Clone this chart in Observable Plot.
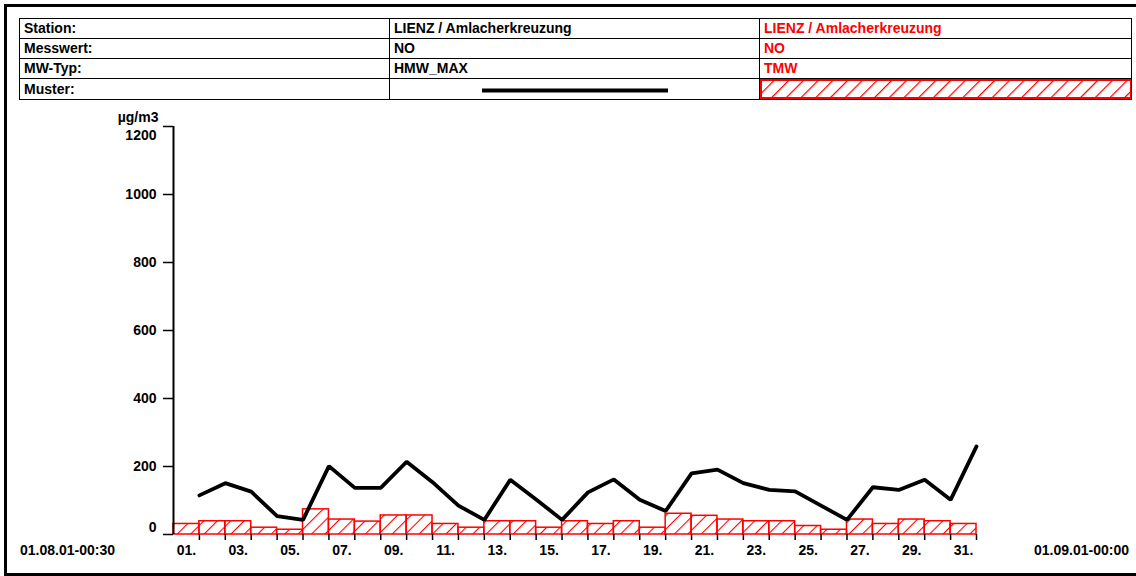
<!DOCTYPE html>
<html>
<head>
<meta charset="utf-8">
<script src="https://cdn.jsdelivr.net/npm/d3@7"></script>
<script src="https://cdn.jsdelivr.net/npm/@observablehq/plot@0.6"></script>
<style>
  body { margin: 0; background: #fff; }
  #wrap { position: relative; width: 1136px; height: 576px; overflow: hidden; background: #fff;
          font-family: "Liberation Sans", Arial, sans-serif; font-weight: bold; }
  #frame { position: absolute; left: 4px; top: 4px; width: 1140px; height: 572px;
           border: 3px solid #000; box-sizing: border-box; }
  #hdr { position: absolute; left: 19px; top: 18px; border-collapse: collapse; table-layout: fixed;
         width: 1112px; font-size: 14px; }
  #hdr td { border: 1.5px solid #000; height: 19px; padding: 0 0 0 4px; line-height: 19px;
            white-space: nowrap; overflow: hidden; }
  #hdr td.red { color: #ff0000; }
  #hdr td.leg { padding: 0; position: relative; }
  #chart { position: absolute; left: 0; top: 106px; }
  .endlab { position: absolute; top: 541px; font-size: 14px; line-height: 18px; }
</style>
</head>
<body>
<div id="wrap">
  <div id="frame"></div>
  <table id="hdr">
    <colgroup><col style="width:370px"><col style="width:370px"><col style="width:372px"></colgroup>
    <tr><td id="r0c0"></td><td id="r0c1"></td><td id="r0c2" class="red"></td></tr>
    <tr><td id="r1c0"></td><td id="r1c1"></td><td id="r1c2" class="red"></td></tr>
    <tr><td id="r2c0"></td><td id="r2c1"></td><td id="r2c2" class="red"></td></tr>
    <tr><td id="r3c0"></td><td class="leg" id="legLine"></td><td class="leg" id="legHatch"></td></tr>
  </table>
  <div id="chart"></div>
  <div class="endlab" id="startLab" style="left:20px;"></div>
  <div class="endlab" id="endLab" style="right:7px;"></div>
</div>
<script>
// ---- data ----
const rowLabels = ["Station:", "Messwert:", "MW-Typ:", "Muster:"];
const series1Info = ["LIENZ / Amlacherkreuzung", "NO", "HMW_MAX"];
const series2Info = ["LIENZ / Amlacherkreuzung", "NO", "TMW"];
const days = d3.range(1, 32);
const hmwMax = [115, 151, 126, 54, 43, 201, 137, 137, 214, 154,
                85, 43, 161, 103, 43, 124, 162, 102, 69, 180,
                191, 151, 131, 127, 85, 43, 139, 131, 161, 102, 259];
const tmw = [31, 39, 39, 20, 14, 74, 44, 38, 56, 56,
             31, 20, 39, 39, 20, 39, 31, 39, 20, 61,
             55, 44, 39, 39, 25, 14, 44, 31, 44, 39, 31];
const yTicks = [0, 200, 400, 600, 800, 1000, 1200];
const labelDays = [1, 3, 5, 7, 9, 11, 13, 15, 17, 19, 21, 23, 25, 27, 29, 31];
const dayLabels = ["01.", "03.", "05.", "07.", "09.", "11.", "13.", "15.", "17.", "19.", "21.", "23.", "25.", "27.", "29.", "31."];
const unitLabel = "µg/m3";
const startLabel = "01.08.01-00:30";
const endLabel = "01.09.01-00:00";

// ---- header ----
rowLabels.forEach((t, i) => document.getElementById("r" + i + "c0").textContent = t);
series1Info.forEach((t, i) => document.getElementById("r" + i + "c1").textContent = t);
series2Info.forEach((t, i) => document.getElementById("r" + i + "c2").textContent = t);
document.getElementById("startLab").textContent = startLabel;
document.getElementById("endLab").textContent = endLabel;

const legLine = d3.select("#legLine").append("svg").attr("width", 370).attr("height", 20)
  .style("display", "block");
legLine.append("line").attr("x1", 92).attr("x2", 278).attr("y1", 11.5).attr("y2", 11.5)
  .attr("stroke", "#000").attr("stroke-width", 4);

const legH = d3.select("#legHatch").append("svg").attr("width", 372).attr("height", 20)
  .style("display", "block");
const lp = legH.append("defs").append("pattern").attr("id", "hatchLeg")
  .attr("patternUnits", "userSpaceOnUse").attr("width", 10.4).attr("height", 10.4)
  .attr("patternTransform", "rotate(45)");
lp.append("line").attr("x1", 0).attr("x2", 0).attr("y1", 0).attr("y2", 10.4)
  .attr("stroke", "#ff0000").attr("stroke-width", 2.5);
legH.append("rect").attr("x", 1).attr("y", 1).attr("width", 370).attr("height", 18)
  .attr("fill", "url(#hatchLeg)").attr("stroke", "#ff0000").attr("stroke-width", 2);

// ---- chart ----
const data = days.map((d, i) => ({day: d, hmw: hmwMax[i], tmw: tmw[i]}));

const defsMark = () => {
  const defs = d3.create("svg:defs");
  const p = defs.append("pattern").attr("id", "hatch")
    .attr("patternUnits", "userSpaceOnUse").attr("width", 9.5).attr("height", 9.5)
    .attr("patternTransform", "rotate(45)");
  p.append("line").attr("x1", 0).attr("x2", 0).attr("y1", 0).attr("y2", 9.5)
    .attr("stroke", "#ff0000").attr("stroke-width", 2.2);
  return defs.node();
};

const chart = Plot.plot({
  width: 1136,
  height: 470,
  marginTop: 20,
  marginBottom: 42,
  marginLeft: 173,
  marginRight: 160,
  style: {fontFamily: "'Liberation Sans', Arial, sans-serif", fontWeight: "bold", fontSize: "14px", color: "#000", background: "transparent"},
  x: {domain: [0, 31]},
  y: {domain: [0, 1200]},
  marks: [
    defsMark,
    Plot.rectY(data, {x1: d => d.day - 1, x2: "day", y: "tmw", fill: "url(#hatch)", stroke: "#ff0000", strokeWidth: 1.5}),
    Plot.line(data, {x: "day", y: "hmw", stroke: "#000", strokeWidth: 3.8, strokeLinejoin: "miter"}),
    Plot.ruleX([0], {y1: 0, y2: 1200, stroke: "#000", strokeWidth: 2}),
    Plot.axisY(yTicks, {tickSize: 10, tickFormat: () => "", strokeWidth: 1.5, label: null}),
    Plot.text(yTicks.filter(d => d > 0 && d < 1200), {y: d => d, frameAnchor: "left", dx: -17, textAnchor: "end", text: d => String(d)}),
    Plot.text(yTicks.filter(d => d === 1200), {y: d => d, frameAnchor: "left", dx: -17, dy: 9, textAnchor: "end", text: d => String(d)}),
    Plot.text(yTicks.filter(d => d === 0), {y: d => d, frameAnchor: "left", dx: -17, dy: -7, textAnchor: "end", text: d => String(d)}),
    Plot.text([unitLabel], {y: 1200, frameAnchor: "left", dx: -15, dy: -9, textAnchor: "end", text: d => d}),
    Plot.axisX(days, {tickSize: 6, tickFormat: () => "", strokeWidth: 1.5, label: null}),
    Plot.text(labelDays, {x: d => d - 0.5, y: 0, dy: 16, text: (d, i) => dayLabels[i]})
  ]
});
document.getElementById("chart").appendChild(chart);
</script>
</body>
</html>
